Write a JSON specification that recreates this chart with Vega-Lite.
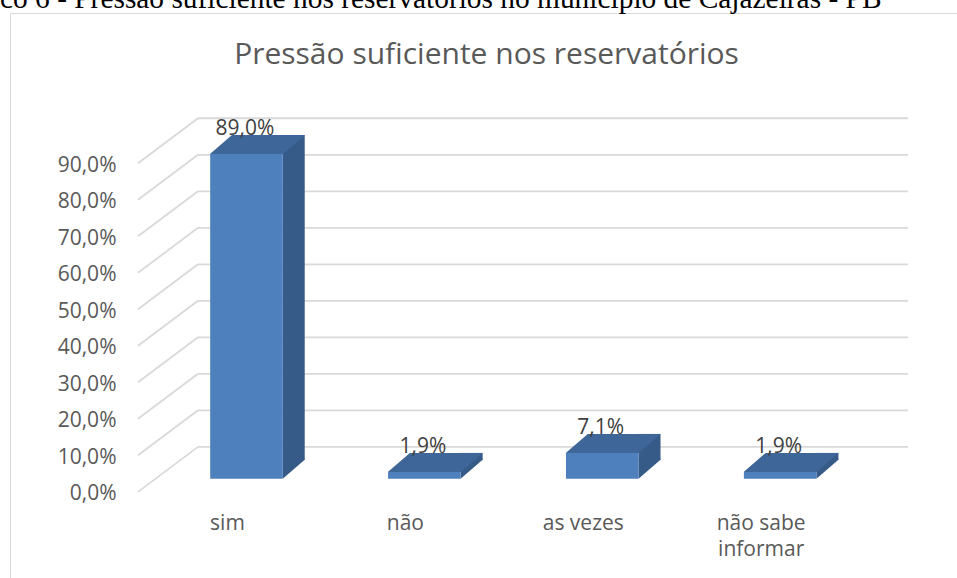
{
  "$schema": "https://vega.github.io/schema/vega-lite/v6.json",
  "width": 948,
  "height": 566,
  "autosize": {"type": "none"},
  "padding": {"left": 10, "top": 13, "right": -1, "bottom": -1},
  "background": "white",
  "title": {
    "text": "Gráfico 6 - Pressão suficiente nos reservatórios no município de Cajazeiras - PB",
    "anchor": "start",
    "frame": "group",
    "dx": -72,
    "offset": -24,
    "baseline": "alphabetic",
    "font": "Liberation Serif",
    "fontSize": 29.4,
    "fontWeight": "normal",
    "color": "#000000"
  },
  "config": {
    "locale": {"number": {"decimal": ",", "thousands": ".", "grouping": [3], "currency": ["R$", ""]}},
    "view": {"stroke": "#D9D9D9", "strokeWidth": 1}
  },
  "datasets": {
    "bars": [
      {"cat": "sim", "value": 0.89},
      {"cat": "não", "value": 0.019},
      {"cat": "as vezes", "value": 0.071},
      {"cat": "não sabe informar", "value": 0.019}
    ],
    "ticks": [
      {"v": 0}, {"v": 0.1}, {"v": 0.2}, {"v": 0.3}, {"v": 0.4},
      {"v": 0.5}, {"v": 0.6}, {"v": 0.7}, {"v": 0.8}, {"v": 0.9}
    ]
  },
  "resolve": {"scale": {"x": "independent"}},
  "layer": [
    {
      "data": {"name": "ticks"},
      "mark": {"type": "rule", "color": "#D9D9D9", "strokeWidth": 1.8, "yOffset": -47},
      "encoding": {
        "x": {"datum": "back", "type": "ordinal", "scale": {"type": "point", "domain": ["back", "end"], "range": [188, 898], "padding": 0}, "axis": null},
        "x2": {"datum": "end"},
        "y": {
          "field": "v", "type": "quantitative",
          "scale": {"domain": [-0.23323, 1.31708], "nice": false, "zero": false},
          "axis": {
            "orient": "left",
            "values": [0, 0.1, 0.2, 0.3, 0.4, 0.5, 0.6, 0.7, 0.8, 0.9],
            "format": ".1%",
            "title": null,
            "labelFont": "Open Sans",
            "labelFontSize": 21,
            "labelColor": "#595959",
            "labelPadding": -106,
            "labelBound": false,
            "labelOverlap": false,
            "ticks": false,
            "domain": false,
            "grid": false,
            "zindex": 2
          }
        }
      }
    },
    {
      "data": {"name": "ticks"},
      "mark": {"type": "rule", "color": "#D9D9D9", "strokeWidth": 1.8, "yOffset": -2, "y2Offset": -47},
      "encoding": {
        "x": {"datum": "front", "type": "ordinal", "scale": {"type": "point", "domain": ["front", "back"], "range": [128, 188], "padding": 0}, "axis": null},
        "x2": {"datum": "back"},
        "y": {"field": "v", "type": "quantitative", "scale": {"domain": [-0.23323, 1.31708], "nice": false, "zero": false}},
        "y2": {"field": "v"}
      }
    },
    {
      "data": {"name": "bars"},
      "mark": {"type": "bar", "color": "#375B88", "width": 22, "xOffset": 47.25, "x2Offset": 47.25, "yOffset": -34, "y2Offset": -34},
      "encoding": {
        "x": {"field": "cat", "type": "nominal", "sort": null, "scale": {"type": "band", "domain": ["sim", "não", "as vezes", "não sabe informar"], "paddingInner": 0.592, "paddingOuter": 0.9605, "align": 0.5858}, "axis": null},
        "y": {"field": "value", "type": "quantitative", "scale": {"domain": [-0.23323, 1.31708], "nice": false, "zero": false}}
      }
    },
    {
      "data": {"name": "bars"},
      "mark": {"type": "point", "shape": "M -1 -0.96 L 1 -0.96 L 1 -0.864 L -1 0.864 Z", "size": 484, "filled": true, "opacity": 1, "strokeWidth": 0, "color": "#375B88", "xOffset": 47.25, "yOffset": -24.5},
      "encoding": {
        "x": {"field": "cat", "type": "nominal", "sort": null, "scale": {"type": "band", "domain": ["sim", "não", "as vezes", "não sabe informar"], "paddingInner": 0.592, "paddingOuter": 0.9605, "align": 0.5858}, "axis": null},
        "y": {"datum": 0, "type": "quantitative", "scale": {"domain": [-0.23323, 1.31708], "nice": false, "zero": false}}
      }
    },
    {
      "data": {"name": "bars"},
      "mark": {"type": "bar", "color": "#4E80BD", "yOffset": -15, "y2Offset": -15},
      "encoding": {
        "x": {
          "field": "cat", "type": "nominal", "sort": null,
          "scale": {"type": "band", "domain": ["sim", "não", "as vezes", "não sabe informar"], "paddingInner": 0.592, "paddingOuter": 0.9605, "align": 0.5858},
          "axis": {
            "title": "Pressão suficiente nos reservatórios",
            "titleAngle": 0,
            "titleAlign": "center",
            "titleAnchor": null,
            "titleBaseline": "alphabetic",
            "titleX": 476,
            "titleY": -516,
            "titleFont": "Open Sans",
            "titleFontSize": 30,
            "titleFontWeight": "normal",
            "titleColor": "#595959",
            "domain": false,
            "ticks": false,
            "grid": false,
            "labelAngle": 0,
            "labelAlign": "center",
            "labelBaseline": "top",
            "labelOffset": -19,
            "labelPadding": -67,
            "labelFont": "Open Sans",
            "labelFontSize": 21,
            "labelColor": "#595959",
            "labelLineHeight": 26,
            "labelOverlap": false,
            "labelBound": false,
            "zindex": 2,
            "labelExpr": "datum.value == 'não sabe informar' ? ['não sabe', 'informar'] : datum.label"
          }
        },
        "y": {"field": "value", "type": "quantitative", "scale": {"domain": [-0.23323, 1.31708], "nice": false, "zero": false}}
      }
    },
    {
      "data": {"name": "bars"},
      "mark": {"type": "point", "shape": "M -1 0.2 L 0.537 0.2 L 1 -0.2 L -0.537 -0.2 Z", "size": 9025, "filled": true, "opacity": 1, "strokeWidth": 0, "color": "#3E6698", "xOffset": 11, "yOffset": -24.5},
      "encoding": {
        "x": {"field": "cat", "type": "nominal", "sort": null, "scale": {"type": "band", "domain": ["sim", "não", "as vezes", "não sabe informar"], "paddingInner": 0.592, "paddingOuter": 0.9605, "align": 0.5858}, "axis": null},
        "y": {"field": "value", "type": "quantitative", "scale": {"domain": [-0.23323, 1.31708], "nice": false, "zero": false}}
      }
    },
    {
      "data": {"name": "bars"},
      "mark": {"type": "text", "font": "Open Sans", "fontSize": 21, "color": "#404040", "baseline": "alphabetic", "align": "center", "xOffset": -1.5, "yOffset": -34},
      "encoding": {
        "x": {"field": "cat", "type": "nominal", "sort": null, "scale": {"type": "band", "domain": ["sim", "não", "as vezes", "não sabe informar"], "paddingInner": 0.592, "paddingOuter": 0.9605, "align": 0.5858}, "axis": null},
        "y": {"field": "value", "type": "quantitative", "scale": {"domain": [-0.23323, 1.31708], "nice": false, "zero": false}},
        "text": {"field": "value", "type": "quantitative", "format": ".1%"}
      }
    }
  ]
}
